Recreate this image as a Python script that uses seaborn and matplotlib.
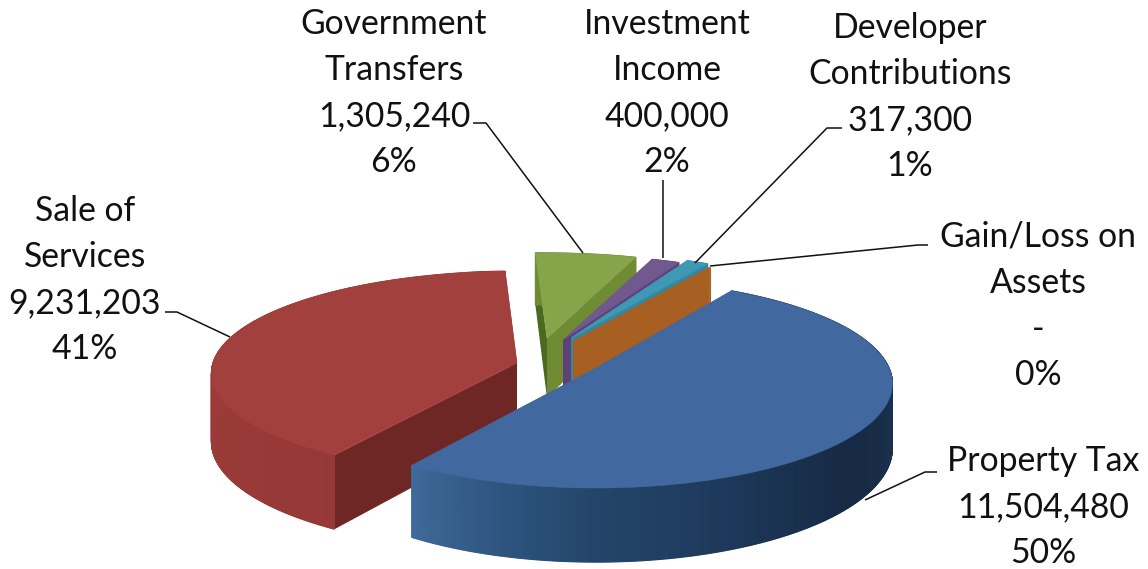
import numpy as np
import pandas as pd
import matplotlib
matplotlib.use("Agg")
import matplotlib.pyplot as plt
from matplotlib.patches import Polygon
import seaborn as sns

# Revenue sources, in drawing order around the pie (clockwise)
categories = ["Property Tax", "Sale of\nServices", "Government\nTransfers",
              "Investment\nIncome", "Developer\nContributions", "Gain/Loss on\nAssets"]
amounts = [11504480, 9231203, 1305240, 400000, 317300, 0]
amount_labels = ["11,504,480", "9,231,203", "1,305,240", "400,000", "317,300", "-"]
share_labels = ["50%", "41%", "6%", "2%", "1%", "0%"]

top_colors = ["#41689f", "#a2403d", "#86a44a", "#71588f", "#3f98b4", "#c47a2f"]
start_face_colors = ["#3a5f90", "#6f2725", "#4a6a20", "#5c4276", "#3288a0", "#a85f22"]
end_face_colors = ["#3a5f90", "#6f2725", "#6f8c35", "#5c4276", "#3288a0", "#a85f22"]
outer_ramps = [["#1b3350"] * 5 + ["#182d48", "#162a44", "#1a3250", "#1f3c5f", "#234569",
                                  "#2f5580", "#3f6a9a"],
               ["#963936", "#9a3b38", "#9d3c39", "#a03e3b"],
               ["#6f8c35"] * 2, ["#5c4276"] * 2, ["#3288a0"] * 2, ["#a85f22"] * 2]

# Canvas position of each slice's tip, in pixels
tips_px = [(596, 368), (517, 363), (547, 338), (563, 340), (571, 338), (573, 341)]
# Per-slice camera: x radius, y radius, depth foreshortening, wall height
lenses = [(293, 102, 0.15, 63), (304, 101, 0.10, 68), (296, 98, 0.15, 60),
          (296, 98, 0.15, 60), (296, 98, 0.15, 60), (296, 98, 0.15, 60)]
label_xy = [(1043, 507), (85, 280), (394, 93), (667, 93), (910, 97), (1038, 306)]
leaders = [[(865, 500), (925, 472), (937, 472)],
           [(230, 337), (177, 312), (165, 312)],
           [(583, 253), (486, 123), (473, 123)],
           [(663, 258), (663, 180)],
           [(695, 263), (827, 128), (842, 128)],
           [(710, 266), (918, 245), (928, 245)]]
START_DEG = 58.6
BACK_LEAN = 9.0

sns.set_theme(style="white")
plt.rcParams["font.family"] = ["Lato", "DejaVu Sans"]

revenue = pd.DataFrame({"category": categories, "amount": amounts})
sweeps = 360 * revenue["amount"].to_numpy() / revenue["amount"].sum()
ends = START_DEG - np.cumsum(sweeps)
starts = ends + sweeps

fig = plt.figure(figsize=(11.48, 5.69), dpi=100)
ax = fig.add_axes([0, 0, 1, 1])
ax.set_xlim(0, 1148)
ax.set_ylim(569, 0)
ax.axis("off")


def draw_slice(i, base_z):
    (px, py), (fx, gy, k, h) = tips_px[i], lenses[i]
    n = max(int(sweeps[i] * 3), 2)
    th = np.radians(np.linspace(starts[i], ends[i], n))
    xs, ys = np.cos(th), np.sin(th)
    w = 1 + k * ys
    # Edges pointing straight back lean slightly left in this view
    lean = BACK_LEAN * np.exp(-(xs / 0.15) ** 2) * np.clip(ys, 0, 1)
    tx = px + fx * xs / w - lean
    ty = py - gy * ys / w
    bx, by = tx, ty + h / w
    tip_bottom = (px, py + h)

    # Two cut faces running from the tip out to the rim
    ax.add_patch(Polygon([(px, py), (tx[0], ty[0]), (bx[0], by[0]), tip_bottom],
                         fc=start_face_colors[i], ec="none", zorder=base_z))
    ax.add_patch(Polygon([(px, py), (tx[-1], ty[-1]), (bx[-1], by[-1]), tip_bottom],
                         fc=end_face_colors[i], ec="none", zorder=base_z))

    # Curved rim, shaded segment by segment along the sweep
    shades = sns.blend_palette(outer_ramps[i], n_colors=n)
    for j in range(n - 1):
        ax.add_patch(Polygon([(tx[j], ty[j]), (tx[j + 1], ty[j + 1]),
                              (bx[j + 1], by[j + 1]), (bx[j], by[j])],
                             fc=shades[j], ec=shades[j], lw=0.8, zorder=base_z + 0.1))

    # Flat top surface
    if sweeps[i] > 0:
        ax.add_patch(Polygon(np.r_[[(px, py)], np.c_[tx, ty]],
                             fc=top_colors[i], ec=top_colors[i], lw=0.4, zorder=base_z + 0.2))


# Back slices first, the property tax slice last so it overlaps the other tips
for z, idx in enumerate([1, 2, 3, 4, 5, 0]):
    draw_slice(idx, z + 1)

for pts in leaders:
    arr = np.array(pts)
    ax.plot(arr[:, 0], arr[:, 1], color="#111111", lw=1.1, zorder=30, solid_capstyle="butt")

for name, amt, share, (x, y) in zip(categories, amount_labels, share_labels, label_xy):
    ax.text(x, y, f"{name}\n{amt}\n{share}", ha="center", va="center", fontsize=24.3,
            color="#111111", linespacing=1.55, zorder=31)

fig.savefig("out.png", dpi=100)
